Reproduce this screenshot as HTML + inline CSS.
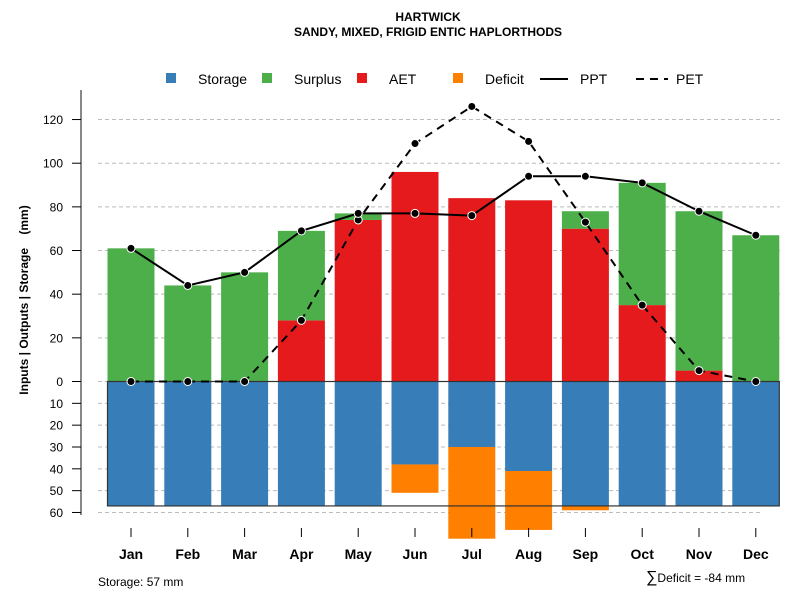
<!DOCTYPE html>
<html><head><meta charset="utf-8"><style>
body{margin:0;background:#fff;}
svg text{font-family:"Liberation Sans",Arial,sans-serif;}
</style></head><body>
<svg id="chart" width="800" height="600" xmlns="http://www.w3.org/2000/svg">
<text x="428" y="21" text-anchor="middle" font-size="12" font-weight="bold">HARTWICK</text>
<text x="428" y="36" text-anchor="middle" font-size="12" font-weight="bold">SANDY, MIXED, FRIGID ENTIC HAPLORTHODS</text>
<g id="grid"></g><g id="bars"></g><g id="lines"></g><g id="axis"></g>
<g>
<rect x="166" y="73" width="10" height="10" fill="#377eb8"/>
<text x="198" y="84" font-size="14">Storage</text>
<rect x="262" y="73" width="10" height="10" fill="#4daf4a"/>
<text x="294" y="84" font-size="14">Surplus</text>
<rect x="357" y="73" width="10" height="10" fill="#e41a1c"/>
<text x="389" y="84" font-size="14">AET</text>
<rect x="453" y="73" width="10" height="10" fill="#ff7f00"/>
<text x="485" y="84" font-size="14">Deficit</text>
<line x1="540" y1="79" x2="568" y2="79" stroke="#000" stroke-width="2"/>
<text x="580" y="84" font-size="14">PPT</text>
<line x1="636" y1="79" x2="668" y2="79" stroke="#000" stroke-width="2" stroke-dasharray="8,6"/>
<text x="676" y="84" font-size="14">PET</text>
</g>
<text transform="translate(28,300) rotate(-90)" text-anchor="middle" font-size="12" font-weight="bold">Inputs | Outputs | Storage&#160;&#160;&#160;&#160;(mm)</text>
<text x="98" y="586" font-size="12">Storage: 57 mm</text>
<text x="646" y="582" font-size="12"><tspan font-size="16">∑</tspan>Deficit = -84 mm</text>
</svg>
<script>
const months=["Jan","Feb","Mar","Apr","May","Jun","Jul","Aug","Sep","Oct","Nov","Dec"];
const ppt=[61,44,50,69,77,77,76,94,94,91,78,67];
const pet=[0,0,0,28,74,109,126,110,73,35,5,0];
const aet=[0,0,0,28,74,96,84,83,70,35,5,0];
const surplus=[61,44,50,41,3,0,0,0,8,56,73,67];
const storage=[57,57,57,57,57,38,30,41,57,57,57,57];
const deficit=[0,0,0,0,0,13,42,27,2,0,0,0];
const upTicks=[0,20,40,60,80,100,120];
const downTicks=[10,20,30,40,50,60];
const capacity=57;
const NS="http://www.w3.org/2000/svg";
const y0=381.5,k=2.183;
const yUp=v=>y0-v*k, yDn=v=>y0+v*k;
const xC=i=>131+i*56.8, bw=47;
function mk(p,t,a){const e=document.createElementNS(NS,t);for(const n in a)e.setAttribute(n,a[n]);document.getElementById(p).appendChild(e);return e;}
upTicks.forEach(v=>{const l=mk('grid','line',{x1:98,x2:780,y1:yUp(v),y2:yUp(v),stroke:'#bbb','stroke-dasharray':'4,3'});

});
downTicks.forEach(v=>{const l=mk('grid','line',{x1:98,x2:760,y1:yDn(v),y2:yDn(v),stroke:'#bbb','stroke-dasharray':'4,3'});

});
months.forEach((m,i)=>{
 const x=xC(i)-bw/2;
 let r=mk('bars','rect',{x:x,y:yUp(aet[i]),width:bw,height:aet[i]*k,fill:'#e41a1c'});
 
 
 r=mk('bars','rect',{x:x,y:yUp(aet[i]+surplus[i]),width:bw,height:surplus[i]*k,fill:'#4daf4a'});
 
 
 r=mk('bars','rect',{x:x,y:y0,width:bw,height:storage[i]*k,fill:'#377eb8'});
 
 
 r=mk('bars','rect',{x:x,y:yDn(storage[i]),width:bw,height:deficit[i]*k,fill:'#ff7f00'});
 
 
});
const box=mk('bars','rect',{x:xC(0)-bw/2,y:y0,width:xC(11)+bw/2-(xC(0)-bw/2),height:capacity*k,fill:'none',stroke:'#333','stroke-width':1.2});


function series(arr,name,dash){
 const pts=arr.map((v,i)=>xC(i)+','+yUp(v)).join(' ');
 const pl=mk('lines','polyline',{points:pts,fill:'none',stroke:'#000','stroke-width':2,'stroke-dasharray':dash});
 
 
 arr.forEach((v,i)=>{const c=mk('lines','circle',{cx:xC(i),cy:yUp(v),r:4,fill:'#000',stroke:'#fff','stroke-width':1});
 
 });
}
series(pet,'pet','8,6');
series(ppt,'ppt','none');
const ax=mk('axis','line',{x1:81,x2:81,y1:90,y2:515,stroke:'#888','stroke-width':2});


function tick(y,lab){
 const t=mk('axis','line',{x1:72,x2:81,y1:y,y2:y,stroke:'#000'});
 
 
 const tx=mk('axis','text',{x:63,y:y+4.5,'text-anchor':'end','font-size':12});
 tx.textContent=lab;
 
 
}
upTicks.forEach(v=>tick(yUp(v),v));
downTicks.forEach(v=>tick(yDn(v),v));
months.forEach((m,i)=>{
 const t=mk('axis','line',{x1:xC(i),x2:xC(i),y1:528,y2:537,stroke:'#000'});
 
 
 const tx=mk('axis','text',{x:xC(i),y:559,'text-anchor':'middle','font-size':14,'font-weight':'bold'});
 tx.textContent=m;
 
 
});
</script>
</body></html>
